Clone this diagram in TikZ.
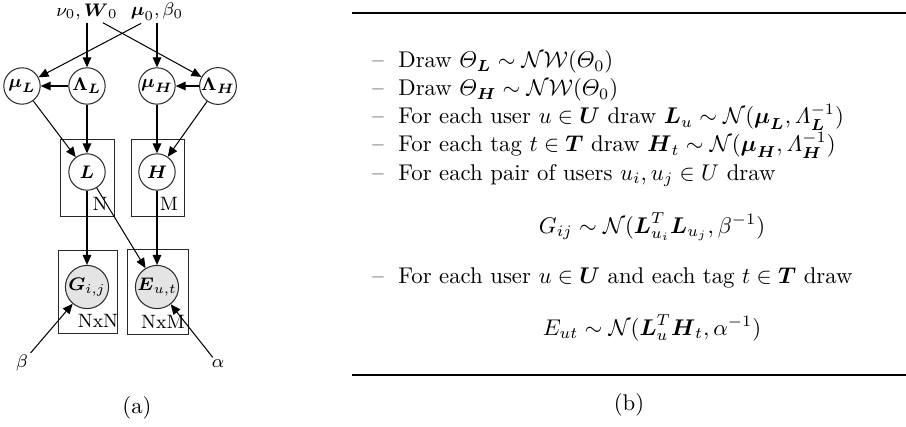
\documentclass[tikz,border=0pt]{standalone}
\usepackage{amsmath}
\usepackage{amssymb}
\usepackage{xcolor}
\usepackage{tikz}
\usetikzlibrary{arrows.meta, positioning}
\definecolor{obsgray}{RGB}{228, 228, 228}
\definecolor{linegray}{RGB}{40, 40, 40}
\tikzset{
  latent/.style={circle, draw=linegray, line width=0.45pt, fill=white, inner sep=0pt,
              minimum size=16pt, font=\fontsize{8.5}{10}\selectfont},
  obs/.style={circle, draw=linegray, line width=0.45pt, fill=obsgray, inner sep=0pt,
              minimum size=19pt, font=\fontsize{8.5}{10}\selectfont},
  plate/.style={draw=linegray, line width=0.4pt},
  platelab/.style={inner sep=0pt, font=\fontsize{8.5}{10}\selectfont},
  hyper/.style={inner sep=1pt, font=\fontsize{8.5}{10}\selectfont},
  edge/.style={-{Triangle[length=4.4pt,width=3.8pt]}, line width=0.45pt},
  stepline/.style={anchor=base west, inner sep=0pt, font=\normalsize},
  eqline/.style={anchor=base, inner sep=0pt, font=\normalsize},
  rule/.style={line width=0.55pt},
}
\newcommand{\bL}{\boldsymbol{L}}
\newcommand{\bH}{\boldsymbol{H}}

\begin{document}
\begin{tikzpicture}[x=0.44pt, y=-0.44pt]
  \useasboundingbox (0,0) rectangle (906,426);

  % (a) graphical model
  \node[hyper] (nuW) at (87,12) {$\nu_0, \boldsymbol{W}_0$};
  \node[hyper] (mub) at (157,12) {$\boldsymbol{\mu}_0, \beta_0$};

  \node[latent] (muL) at (22,86) {$\boldsymbol{\mu}_{\bL}$};
  \node[latent] (lamL) at (87,86) {$\boldsymbol{\Lambda}_{\bL}$};
  \node[latent] (muH) at (157,86) {$\boldsymbol{\mu}_{\bH}$};
  \node[latent] (lamH) at (218,86) {$\boldsymbol{\Lambda}_{\bH}$};

  \draw[plate] (60,139) rectangle (114,216);
  \draw[plate] (131,139) rectangle (184,216);
  \node[latent] (L) at (87,172) {$\bL$};
  \node[latent] (H) at (157,172) {$\bH$};
  \node[platelab] (labN) at (100,204) {N};
  \node[platelab] (labM) at (169,204) {M};

  \draw[plate] (58,250) rectangle (117,333);
  \draw[plate] (127,249) rectangle (188,334);
  \node[obs] (G) at (87,287) {$\boldsymbol{G}_{i,j}$};
  \node[obs] (E) at (157,287) {$\boldsymbol{E}_{u,t}$};
  \node[platelab] (labNN) at (98,321) {NxN};
  \node[platelab] (labNM) at (163,322) {NxM};

  \node[hyper] (beta) at (22,363) {$\beta$};
  \node[hyper] (alpha) at (218,364) {$\alpha$};

  \draw[edge] (nuW.south) -- (lamL);
  \draw[edge] ([xshift=7pt]nuW.south) -- (lamH);
  \draw[edge] ([xshift=-7pt]mub.south) -- (muL);
  \draw[edge] (mub.south) -- (muH);
  \draw[edge] (lamL) -- (muL);
  \draw[edge] (lamH) -- (muH);
  \draw[edge] (muL) -- (L);
  \draw[edge] (lamL) -- (L);
  \draw[edge] (muH) -- (H);
  \draw[edge] (lamH) -- (H);
  \draw[edge] (L) -- (G);
  \draw[edge] (L) -- (E);
  \draw[edge] (H) -- (E);
  \draw[edge] (beta) -- (G);
  \draw[edge] (alpha) -- (E);

  \node (capa) at (137,408) {(a)};

  % (b) generative process
  \coordinate (ruleTL) at (352,13);
  \coordinate (ruleTR) at (906,13);
  \coordinate (ruleBL) at (352,375);
  \coordinate (ruleBR) at (906,375);
  \draw[rule] (ruleTL) -- (ruleTR);
  \draw[rule] (ruleBL) -- (ruleBR);

  \foreach \y [count=\i] in {68,96,124,152,180,283}
    \node[stepline] (dash\i) at (372,\y) {--};

  \node[stepline] (s1) at (398,68) {Draw $\varTheta_{\bL} \sim \mathcal{N}\mathcal{W}(\varTheta_0)$};
  \node[stepline] (s2) at (398,96) {Draw $\varTheta_{\bH} \sim \mathcal{N}\mathcal{W}(\varTheta_0)$};
  \node[stepline] (s3) at (398,124) {For each user $u \in \boldsymbol{U}$ draw $\bL_u \sim \mathcal{N}(\boldsymbol{\mu}_{\bL}, \varLambda_{\bL}^{-1})$};
  \node[stepline] (s4) at (398,152) {For each tag $t \in \boldsymbol{T}$ draw $\bH_t \sim \mathcal{N}(\boldsymbol{\mu}_{\bH}, \varLambda_{\bH}^{-1})$};
  \node[stepline] (s5) at (398,180) {For each pair of users $u_i, u_j \in U$ draw};
  \node[eqline] (eqG) at (652,233) {$G_{ij} \sim \mathcal{N}(\bL_{u_i}^T \bL_{u_j}, \beta^{-1})$};
  \node[stepline] (s6) at (398,283) {For each user $u \in \boldsymbol{U}$ and each tag $t \in \boldsymbol{T}$ draw};
  \node[eqline] (eqE) at (652,335) {$E_{ut} \sim \mathcal{N}(\bL_u^T \bH_t, \alpha^{-1})$};

  \node (capb) at (629,405) {(b)};
\end{tikzpicture}
\end{document}
